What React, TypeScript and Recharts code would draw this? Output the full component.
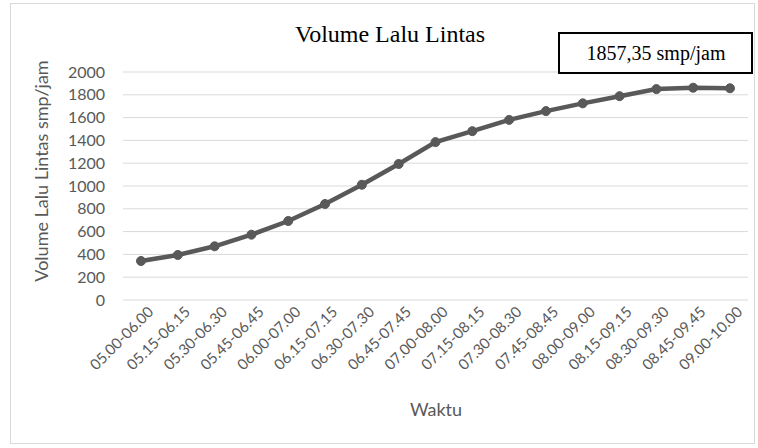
import React from 'react';
import { LineChart, Line, XAxis, YAxis, CartesianGrid } from 'recharts';

const waktu = [
  '05.00-06.00', '05.15-06.15', '05.30-06.30', '05.45-06.45', '06.00-07.00',
  '06.15-07.15', '06.30-07.30', '06.45-07.45', '07.00-08.00', '07.15-08.15',
  '07.30-08.30', '07.45-08.45', '08.00-09.00', '08.15-09.15', '08.30-09.30',
  '08.45-09.45', '09.00-10.00',
];
const volume = [342, 395, 471, 573, 693, 842, 1011, 1193, 1385, 1481, 1580, 1657, 1725, 1788, 1850, 1862, 1857.35];
const yTicks = [0, 200, 400, 600, 800, 1000, 1200, 1400, 1600, 1800, 2000];

const data = waktu.map((w, i) => ({ waktu: w, volume: volume[i] }));

const GREY = '#595959';
const SANS = 'Lato, "Open Sans", sans-serif';
const SERIF = '"Liberation Serif", "DejaVu Serif", serif';

const XTick = ({ x, y, payload }: any) => (
  <g transform={`translate(${x},${y})`}>
    <text
      x={6}
      y={0}
      dy={13}
      textAnchor="end"
      transform="rotate(-45)"
      fill={GREY}
      fontSize={15}
      fontFamily={SANS}
    >
      {payload.value}
    </text>
  </g>
);

export default function App() {
  return (
    <div style={{ position: 'absolute', left: 0, top: 0, width: 758, height: 448, background: '#fff' }}>
      <LineChart
        width={758}
        height={448}
        data={data}
        margin={{ top: 72, right: 10, left: 0, bottom: 0 }}
      >
        <CartesianGrid vertical={false} stroke="#d9d9d9" />
        <XAxis
          dataKey="waktu"
          interval={0}
          height={148}
          axisLine={false}
          tickLine={false}
          padding={{ left: 18, right: 18 }}
          tick={<XTick />}
        />
        <YAxis
          domain={[0, 2000]}
          ticks={yTicks}
          interval={0}
          width={123}
          axisLine={false}
          tickLine={false}
          tickSize={0}
          tickMargin={18}
          tick={{ fill: GREY, fontSize: 16, fontFamily: SANS }}
        />
        <Line
          type="linear"
          dataKey="volume"
          stroke={GREY}
          strokeWidth={4.5}
          dot={{ r: 4.5, fill: GREY, stroke: GREY, strokeWidth: 1 }}
          isAnimationActive={false}
        />
      </LineChart>
      <svg
        width={758}
        height={448}
        style={{ position: 'absolute', left: 0, top: 0, pointerEvents: 'none' }}
      >
        <rect x={10.5} y={3.5} width={744} height={440} fill="none" stroke="#d9d9d9" />
        <text x={390} y={42} textAnchor="middle" style={{ fontFamily: SERIF }} fontSize={24} fill="#000">
          Volume Lalu Lintas
        </text>
        <rect x={559} y={33} width={193} height={40} fill="#fff" stroke="#000" strokeWidth={2} />
        <text x={656} y={60} textAnchor="middle" style={{ fontFamily: SERIF }} fontSize={20} fill="#000">
          1857,35 smp/jam
        </text>
        <text
          x={0}
          y={0}
          transform="translate(48,171) rotate(-90)"
          textAnchor="middle"
          fontFamily={SANS}
          fontSize={18}
          fill={GREY}
        >
          Volume Lalu Lintas smp/jam
        </text>
        <text x={436} y={416} textAnchor="middle" fontFamily={SANS} fontSize={18} fill={GREY}>
          Waktu
        </text>
      </svg>
    </div>
  );
}
